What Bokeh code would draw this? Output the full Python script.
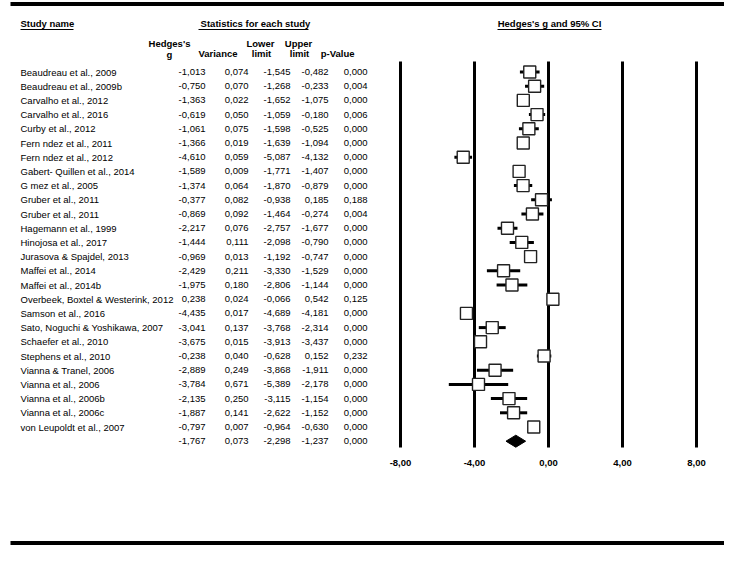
from bokeh.plotting import figure
from bokeh.models import Range1d, ColumnDataSource
from bokeh.core.properties import value
from bokeh.embed import file_html
from bokeh.resources import INLINE

studies = ["Beaudreau et al., 2009", "Beaudreau et al., 2009b", "Carvalho et al., 2012",
           "Carvalho et al., 2016", "Curby et al., 2012", "Fern ndez et al., 2011",
           "Fern ndez et al., 2012", "Gabert- Quillen et al., 2014", "G mez et al., 2005",
           "Gruber et al., 2011", "Gruber et al., 2011", "Hagemann et al., 1999",
           "Hinojosa et al., 2017", "Jurasova & Spajdel, 2013", "Maffei et al., 2014",
           "Maffei et al., 2014b", "Overbeek, Boxtel & Westerink, 2012", "Samson et al., 2016",
           "Sato, Noguchi & Yoshikawa, 2007", "Schaefer et al., 2010", "Stephens et al., 2010",
           "Vianna & Tranel, 2006", "Vianna et al., 2006", "Vianna et al., 2006b",
           "Vianna et al., 2006c", "von Leupoldt et al., 2007"]
hedges_g = [-1.013, -0.750, -1.363, -0.619, -1.061, -1.366, -4.610, -1.589, -1.374, -0.377,
            -0.869, -2.217, -1.444, -0.969, -2.429, -1.975, 0.238, -4.435, -3.041, -3.675,
            -0.238, -2.889, -3.784, -2.135, -1.887, -0.797]
variance = [0.074, 0.070, 0.022, 0.050, 0.075, 0.019, 0.059, 0.009, 0.064, 0.082,
            0.092, 0.076, 0.111, 0.013, 0.211, 0.180, 0.024, 0.017, 0.137, 0.015,
            0.040, 0.249, 0.671, 0.250, 0.141, 0.007]
lower = [-1.545, -1.268, -1.652, -1.059, -1.598, -1.639, -5.087, -1.771, -1.870, -0.938,
         -1.464, -2.757, -2.098, -1.192, -3.330, -2.806, -0.066, -4.689, -3.768, -3.913,
         -0.628, -3.868, -5.389, -3.115, -2.622, -0.964]
upper = [-0.482, -0.233, -1.075, -0.180, -0.525, -1.094, -4.132, -1.407, -0.879, 0.185,
         -0.274, -1.677, -0.790, -0.747, -1.529, -1.144, 0.542, -4.181, -2.314, -3.437,
         0.152, -1.911, -2.178, -1.154, -1.152, -0.630]
p_value = [0.000, 0.004, 0.000, 0.006, 0.000, 0.000, 0.000, 0.000, 0.000, 0.188,
           0.004, 0.000, 0.000, 0.000, 0.000, 0.000, 0.125, 0.000, 0.000, 0.000,
           0.232, 0.000, 0.000, 0.000, 0.000, 0.000]
combined = {"g": -1.767, "var": 0.073, "lower": -2.298, "upper": -1.237, "p": 0.000}
ticks = [-8, -4, 0, 4, 8]

FONT = value("Liberation Sans")
FS = "9.5px"

def fmt(v, d=3):
    return f"{v:.{d}f}".replace(".", ",")

# picture-pixel geometry
W, H = 724, 545
X0, PXU = 548.0, 18.5          # x of g=0, pixels per unit
ROW0, ROWH = 71.5, 14.2        # y of first row, row spacing

p = figure(width=W, height=H, output_backend="svg", toolbar_location=None,
           x_range=Range1d((0 - X0) / PXU, (W - X0) / PXU),
           y_range=Range1d((H - ROW0) / ROWH, (0 - ROW0) / ROWH),
           min_border=0, outline_line_color=None)
p.extra_x_ranges = {"px": Range1d(0, W)}
p.extra_y_ranges = {"py": Range1d(H, 0)}
p.axis.visible = False
p.grid.visible = False

n = len(studies)
rows = list(range(n))
comb_row = n

# frame lines (top/bottom thick rules)
p.segment(x0=[10, 10], x1=[W, W], y0=[3.5, 542.5], y1=[3.5, 542.5],
          x_range_name="px", y_range_name="py", line_color="black", line_width=4)

def ptext(x, y, t, align="left", bold=False, size=FS):
    p.text(x=[x], y=[y], text=[t], x_range_name="px", y_range_name="py",
           text_font=FONT, text_font_size=size, text_align=align,
           text_baseline="middle", text_font_style="bold" if bold else "normal",
           text_color="black")

ptext(20, 23, "Study name", bold=True)
ptext(255, 23, "Statistics for each study", align="center", bold=True)
ptext(549, 23, "Hedges's g and 95% CI", align="center", bold=True)
p.segment(x0=[20, 198, 497], x1=[73, 308, 601], y0=[29, 29, 29], y1=[29, 29, 29],
          x_range_name="px", y_range_name="py", line_color="black", line_width=1)

ptext(169, 43, "Hedges's", align="center", bold=True)
ptext(169, 54, "g", align="center", bold=True)
ptext(237, 53, "Variance", align="right", bold=True)
ptext(260, 43, "Lower", align="center", bold=True)
ptext(261, 53, "limit", align="center", bold=True)
ptext(298, 43, "Upper", align="center", bold=True)
ptext(299, 53, "limit", align="center", bold=True)
ptext(354, 53, "p-Value", align="right", bold=True)

# table rows
all_rows = rows + [comb_row]
cols = [
    (hedges_g + [combined["g"]], 205),
    (variance + [combined["var"]], 248),
    (lower + [combined["lower"]], 290),
    (upper + [combined["upper"]], 328),
    (p_value + [combined["p"]], 367),
]
p.text(x=[20] * n, y=rows, text=studies, x_range_name="px",
       text_font=FONT, text_font_size=FS, text_align="left",
       text_baseline="middle", text_color="black")
for vals, xr in cols:
    p.text(x=[xr] * len(vals), y=all_rows, text=[fmt(v) for v in vals], x_range_name="px",
           text_font=FONT, text_font_size=FS, text_align="right",
           text_baseline="middle", text_color="black")

# vertical reference lines and tick labels
y_top = (61 - ROW0) / ROWH
y_bot = (447 - ROW0) / ROWH
p.segment(x0=ticks, x1=ticks, y0=[y_top] * len(ticks), y1=[y_bot] * len(ticks),
          line_color="black", line_width=3)
p.text(x=ticks, y=[(462 - ROW0) / ROWH] * len(ticks), text=[fmt(t, 2) for t in ticks],
       text_font=FONT, text_font_size=FS, text_font_style="bold",
       text_align="center", text_baseline="middle", text_color="black")

# CI lines and squares
src = ColumnDataSource(dict(y=rows, g=hedges_g, lo=lower, hi=upper))
p.segment(x0="lo", x1="hi", y0="y", y1="y", source=src, line_color="black", line_width=3)
p.scatter(x="g", y="y", source=src, marker="square", size=12,
          fill_color="white", line_color="#222222", line_width=1.4)

# summary diamond
dh = 6.0 / ROWH
p.patch(x=[combined["lower"], combined["g"], combined["upper"], combined["g"]],
        y=[comb_row, comb_row - dh, comb_row, comb_row + dh],
        fill_color="black", line_color="black")

open("out.html", "w").write(file_html(p, INLINE))
